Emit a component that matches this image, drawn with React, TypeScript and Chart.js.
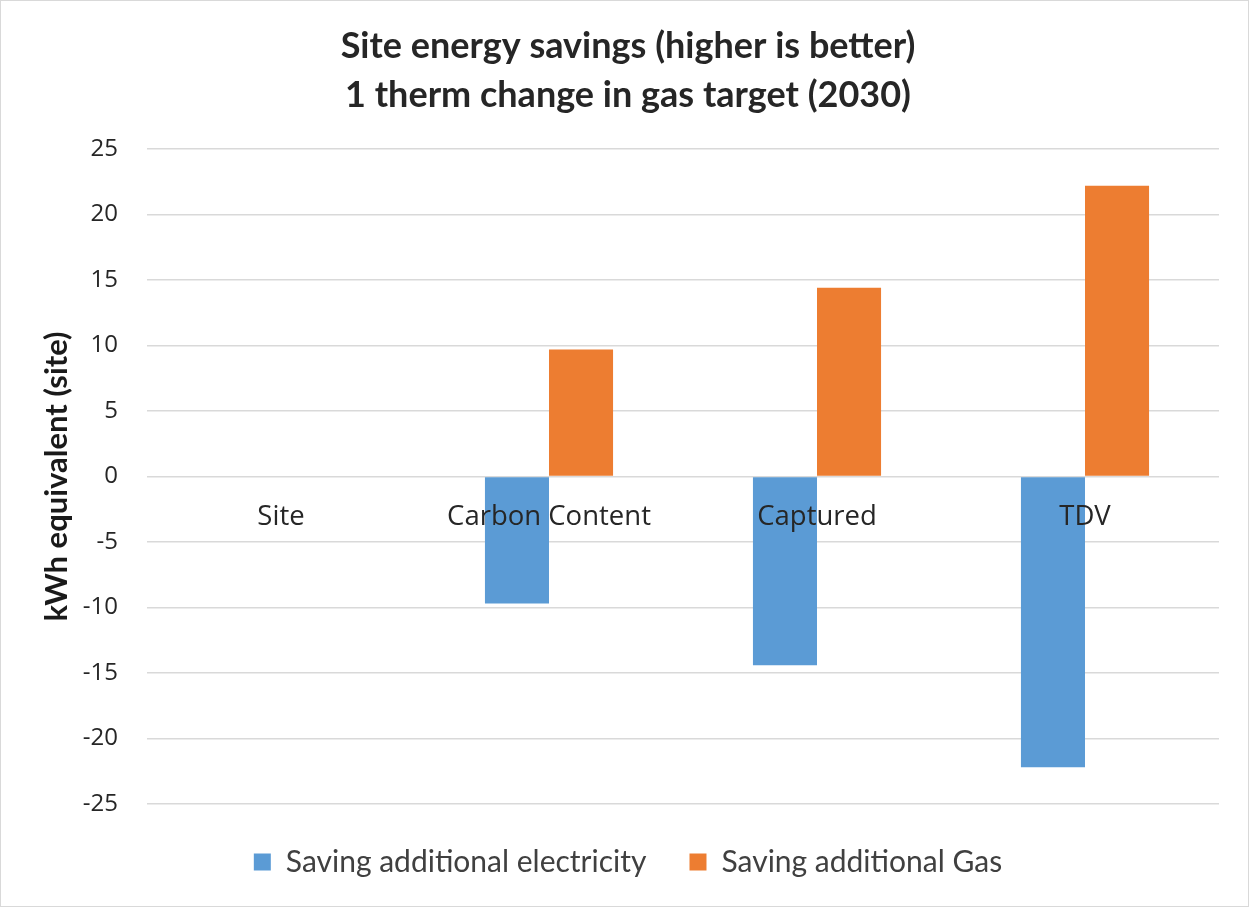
import React, { useEffect, useRef } from "react";
import { Chart, registerables } from "chart.js";

Chart.register(...registerables);

const categories = ["Site", "Carbon Content", "Captured", "TDV"];
const electricitySavings = [0, -9.7, -14.4, -22.2];
const gasSavings = [0, 9.7, 14.4, 22.2];
const titleLines = ["Site energy savings (higher is better)", "1 therm change in gas target (2030)"];
const yAxisTitle = "kWh equivalent (site)";

export default function App() {
  const canvasRef = useRef<HTMLCanvasElement | null>(null);

  useEffect(() => {
    document.body.style.margin = "0";
    const canvas = canvasRef.current;
    if (!canvas) return;
    const chart = new Chart(canvas, {
      type: "bar",
      data: {
        labels: categories,
        datasets: [
          {
            label: "Saving additional electricity",
            data: electricitySavings,
            backgroundColor: "#5b9bd5",
            borderWidth: 0,
            categoryPercentage: 0.478,
            barPercentage: 1,
          },
          {
            label: "Saving additional Gas",
            data: gasSavings,
            backgroundColor: "#ed7d31",
            borderWidth: 0,
            categoryPercentage: 0.478,
            barPercentage: 1,
          },
        ],
      },
      options: {
        animation: false,
        responsive: true,
        maintainAspectRatio: false,
        layout: { padding: { left: 36, right: 29, top: 0, bottom: 19 } },
        plugins: {
          tooltip: { enabled: false },
          title: {
            display: true,
            text: titleLines,
            color: "#262626",
            font: { family: "Lato", weight: "bold", size: 36, lineHeight: "49px" },
            padding: { top: 20.5, bottom: 29.5 },
          },
          legend: {
            position: "bottom",
            labels: {
              color: "#404040",
              font: { family: "Lato", size: 30 },
              boxWidth: 17,
              boxHeight: 17,
              padding: 43,
            },
          },
        },
        scales: {
          x: {
            position: { y: 0 },
            grid: { display: false, drawTicks: false },
            border: { display: false },
            ticks: {
              z: 1,
              color: "#262626",
              font: { family: "Open Sans", size: 27.5 },
              padding: 24,
              maxRotation: 0,
              autoSkip: false,
            },
            afterFit: (scale: any) => {
              scale.height = 0;
            },
          },
          y: {
            min: -25,
            max: 25,
            grid: { color: "#d9d9d9", lineWidth: 1.5, drawTicks: false },
            border: { display: false },
            ticks: {
              stepSize: 5,
              color: "#262626",
              font: { family: "Open Sans", size: 24 },
              padding: 29,
            },
            title: {
              display: true,
              text: yAxisTitle,
              color: "#1a1a1a",
              font: { family: "Lato", weight: "bold", size: 31, lineHeight: 1.2 },
              padding: { top: 1.4, bottom: 0 },
            },
            afterFit: (scale: any) => {
              scale.width = 110;
            },
          },
        },
      },
    });
    return () => chart.destroy();
  }, []);

  return (
    <div
      style={{
        position: "absolute",
        left: 0,
        top: 0,
        width: 1249,
        height: 907,
        boxSizing: "border-box",
        border: "1px solid #d9d9d9",
        background: "#ffffff",
      }}
    >
      <canvas ref={canvasRef} />
    </div>
  );
}
